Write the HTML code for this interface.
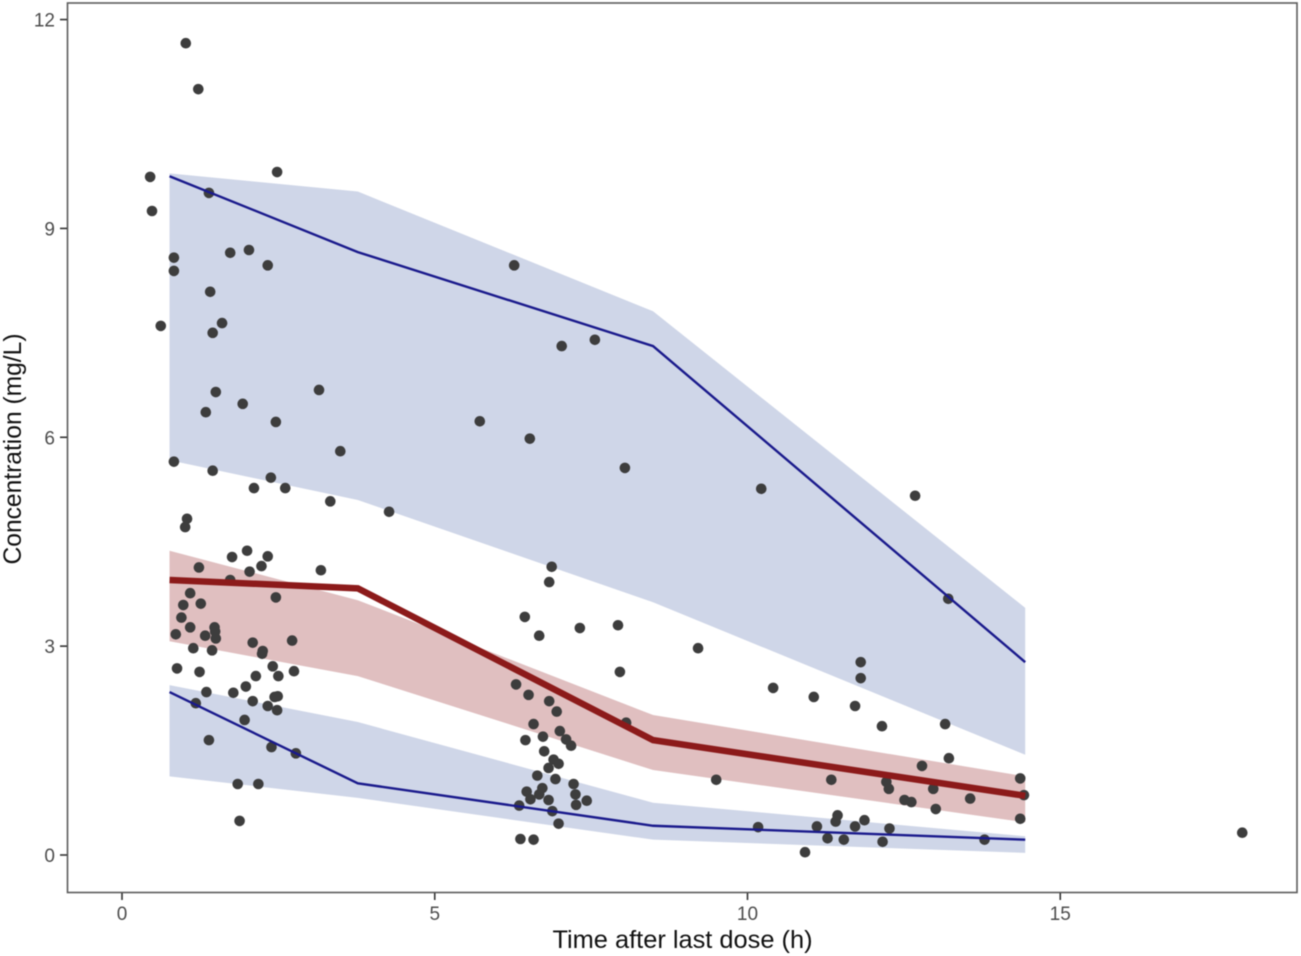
<!DOCTYPE html>
<html lang="en">
<head>
<meta charset="utf-8">
<title>Concentration vs time after last dose</title>
<style>
html,body{margin:0;padding:0;background:#fff;}
svg{display:block;font-family:"Liberation Sans",Arial,sans-serif;filter:blur(0.4px);}
</style>
</head>
<body>
<svg id="chart" width="1301" height="956" viewBox="0 0 1301 956" xmlns="http://www.w3.org/2000/svg">
  <g id="ribbons"></g>
  <g id="points"></g>
  <g id="lines"></g>
  <rect x="67.5" y="3" width="1229.5" height="889.5" fill="none" stroke="#5c5c5c" stroke-width="1.6"></rect>
  <g id="axes"></g>
  <text x="682.5" y="948" font-size="25.4" fill="#111" text-anchor="middle">Time after last dose (h)</text>
  <text transform="translate(21,449) rotate(-90)" font-size="24.6" fill="#111" text-anchor="middle">Concentration (mg/L)</text>
</svg>
<script>
const xTicks = [0, 5, 10, 15];
const yTicks = [0, 3, 6, 9, 12];
const binTimes = [0.76, 3.77, 8.49, 14.44];
const upperBandHigh = [9.79, 9.53, 7.81, 3.55];
const upperBandLow = [5.67, 5.10, 3.63, 1.44];
const upperLine = [9.75, 8.66, 7.31, 2.77];
const medianBandHigh = [4.37, 3.66, 2.01, 1.13];
const medianBandLow = [3.07, 2.57, 1.22, 0.47];
const medianLine = [3.95, 3.83, 1.65, 0.85];
const lowerBandHigh = [2.44, 1.91, 0.75, 0.27];
const lowerBandLow = [1.13, 0.82, 0.22, 0.03];
const lowerLine = [2.34, 1.03, 0.42, 0.22];
const pointTimes = [
1.02,1.22,0.45,0.48,2.48,1.39,0.83,0.83,1.73,2.03,2.33,1.41,0.62,1.60,1.45,1.50,1.93,1.34,2.46,3.15,3.49,0.83,1.45,2.38,2.11,2.61,3.33,4.27,1.04,1.01,
1.76,2.00,2.33,2.23,2.04,1.23,3.18,1.73,1.09,2.46,0.98,1.26,0.95,1.09,1.48,1.49,1.50,0.86,1.33,1.14,1.44,2.09,2.72,2.25,2.24,2.41,2.50,2.75,0.88,1.24,2.14,1.98,1.35,1.78,2.44,2.49,1.18,2.09,2.33,2.48,1.96,1.39,2.39,2.78,1.85,2.18,1.88,
5.72,6.27,6.52,7.03,7.56,8.04,6.87,6.83,6.44,6.67,7.32,7.93,7.96,9.21,8.06,9.50,10.22,12.68,13.21,10.41,11.06,11.81,11.81,11.72,12.15,13.16,13.22,
6.30,6.50,6.83,6.95,6.58,7.00,6.73,6.45,7.10,7.18,6.75,6.90,6.98,6.82,6.64,6.93,7.22,6.72,6.47,6.67,7.25,6.53,6.82,7.43,7.26,6.35,6.88,6.98,6.37,6.58,
12.79,14.36,11.34,12.22,12.26,12.97,14.42,13.56,12.51,12.62,13.01,14.36,11.44,11.41,11.11,11.87,11.72,12.27,11.28,11.54,12.16,13.79,10.92,10.17,17.91
];
const pointConcs = [
11.66,11.00,9.74,9.25,9.81,9.51,8.58,8.39,8.65,8.69,8.47,8.09,7.60,7.64,7.50,6.65,6.48,6.36,6.22,6.68,5.80,5.65,5.52,5.42,5.27,5.27,5.08,4.93,4.83,4.71,
4.28,4.37,4.29,4.15,4.07,4.13,4.09,3.95,3.76,3.70,3.59,3.61,3.41,3.27,3.27,3.21,3.11,3.17,3.15,2.97,2.94,3.05,3.08,2.93,2.89,2.71,2.57,2.64,2.68,2.63,2.57,2.42,2.34,2.33,2.27,2.28,2.18,2.21,2.14,2.08,1.94,1.65,1.55,1.46,1.02,1.02,0.49,
6.23,8.47,5.98,7.31,7.40,5.56,4.14,3.92,3.42,3.15,3.26,3.30,2.63,2.97,1.90,1.08,5.26,5.16,3.68,2.40,2.27,2.77,2.54,2.14,1.85,1.88,1.39,
2.45,2.30,2.21,2.06,1.88,1.78,1.70,1.65,1.66,1.57,1.49,1.37,1.31,1.25,1.14,1.09,1.02,0.96,0.91,0.87,0.87,0.80,0.79,0.78,0.72,0.71,0.63,0.45,0.23,0.22,
1.28,1.10,1.08,1.05,0.95,0.95,0.86,0.81,0.79,0.76,0.66,0.52,0.57,0.48,0.41,0.50,0.41,0.38,0.24,0.22,0.19,0.22,0.04,0.40,0.32
];

const NS = 'http://www.w3.org/2000/svg';
function xScale(v) { return 122 + v * 62.55; }
function yScale(v) { return 855 - v * 69.62; }
function make(tag, attrs, parent) {
  const el = document.createElementNS(NS, tag);
  for (const k in attrs) el.setAttribute(k, attrs[k]);
  parent.appendChild(el);
  return el;
}
function linePath(xs, ys) {
  return xs.map((x, i) => (i ? 'L' : 'M') + xScale(x).toFixed(2) + ' ' + yScale(ys[i]).toFixed(2)).join(' ');
}
function bandPath(xs, hi, lo) {
  const top = xs.map((x, i) => xScale(x).toFixed(2) + ' ' + yScale(hi[i]).toFixed(2));
  const bottom = xs.map((x, i) => xScale(x).toFixed(2) + ' ' + yScale(lo[i]).toFixed(2)).reverse();
  return 'M' + top.concat(bottom).join(' L') + ' Z';
}

const ribbons = document.getElementById('ribbons');
const bandUpper = make('path', { d: bandPath(binTimes, upperBandHigh, upperBandLow), fill: '#cfd6e8' }, ribbons);


const bandMedian = make('path', { d: bandPath(binTimes, medianBandHigh, medianBandLow), fill: '#e0bfc0' }, ribbons);


const bandLower = make('path', { d: bandPath(binTimes, lowerBandHigh, lowerBandLow), fill: '#cfd6e8' }, ribbons);



const pointsGroup = document.getElementById('points');
pointTimes.forEach((t, i) => {
  const c = make('circle', { cx: xScale(t).toFixed(2), cy: yScale(pointConcs[i]).toFixed(2), r: 5.3, fill: '#3d3d3d' }, pointsGroup);
  
  
});

const linesGroup = document.getElementById('lines');
const lineUpper = make('path', { d: linePath(binTimes, upperLine), fill: 'none', stroke: '#1a1a8c', 'stroke-width': 2.4 }, linesGroup);


const lineLower = make('path', { d: linePath(binTimes, lowerLine), fill: 'none', stroke: '#1a1a8c', 'stroke-width': 2.4 }, linesGroup);


const lineMedian = make('path', { d: linePath(binTimes, medianLine), fill: 'none', stroke: '#8c1a1a', 'stroke-width': 6.5 }, linesGroup);



const axes = document.getElementById('axes');
xTicks.forEach(v => {
  const x = xScale(v);
  const tick = make('line', { x1: x, x2: x, y1: 893, y2: 900, stroke: '#333', 'stroke-width': 1.6 }, axes);
  
  
  const label = make('text', { x: x, y: 920, 'font-size': 19, fill: '#4d4d4d', 'text-anchor': 'middle' }, axes);
  label.textContent = v;
  
  
});
yTicks.forEach(v => {
  const y = yScale(v);
  const tick = make('line', { x1: 60, x2: 67, y1: y, y2: y, stroke: '#333', 'stroke-width': 1.6 }, axes);
  
  
  const label = make('text', { x: 55, y: y + 7, 'font-size': 19, fill: '#4d4d4d', 'text-anchor': 'end' }, axes);
  label.textContent = v;
  
  
});
</script>
</body>
</html>
